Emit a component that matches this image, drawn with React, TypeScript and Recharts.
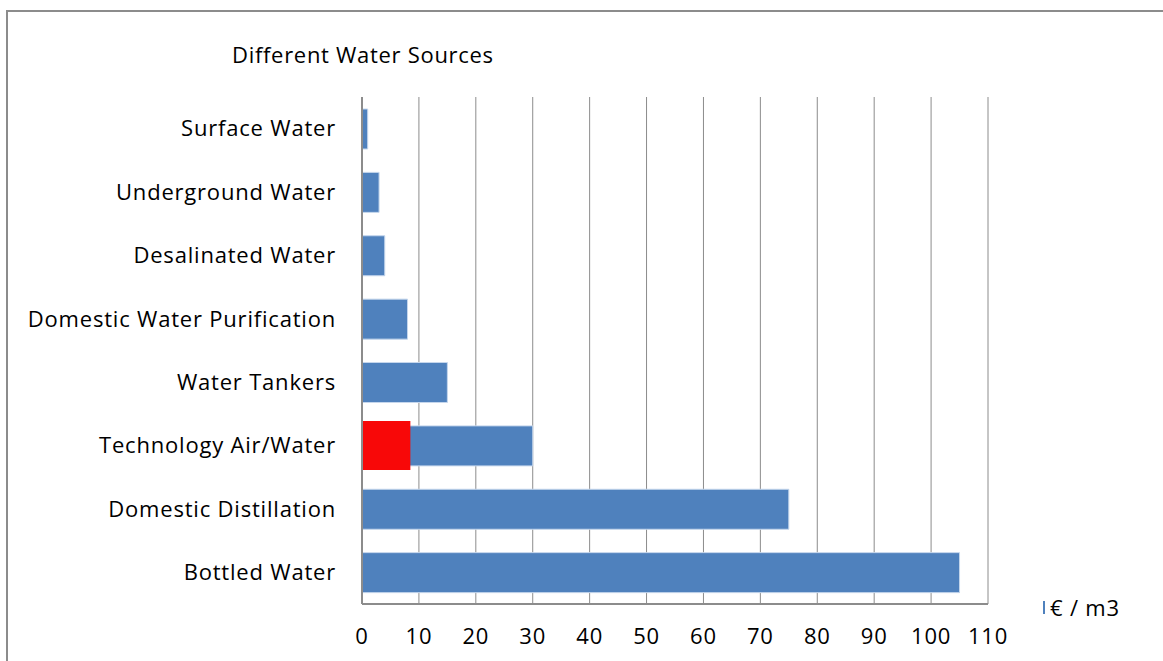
import React from 'react';
import { BarChart, Bar, XAxis, YAxis, CartesianGrid, Legend } from 'recharts';

const SOURCES = [
  'Surface Water',
  'Underground Water',
  'Desalinated Water',
  'Domestic Water Purification ',
  'Water Tankers',
  'Technology Air/Water',
  'Domestic Distillation',
  'Bottled Water',
];
const COST = [1, 3, 4, 8, 15, 30, 75, 105];
// red highlight sits only on the Air/Water row
const HIGHLIGHT = [null, null, null, null, null, 8.5, null, null];
const X_TICKS = [0, 10, 20, 30, 40, 50, 60, 70, 80, 90, 100, 110];

const data = SOURCES.map((name, i) => ({ name, cost: COST[i], highlight: HIGHLIGHT[i] }));

const FONT = '"Open Sans", Lato, sans-serif';
const tickStyle = { fill: '#000', fontSize: 22, fontFamily: FONT, letterSpacing: 0.8 };

const LegendContent = () => (
  <div style={{ display: 'flex', alignItems: 'center', fontFamily: FONT, fontSize: 22, letterSpacing: 0.8, color: '#000' }}>
    <span style={{ display: 'inline-block', width: 2, height: 13, background: '#4f81bd', marginRight: 5 }} />
    <span>€ / m3</span>
  </div>
);

const App: React.FC = () => {
  return (
    <div style={{ position: 'fixed', left: 0, top: 0, width: 1163, height: 661, overflow: 'hidden', background: '#fff' }}>
      <div
        style={{
          position: 'absolute', left: 6, top: 10, width: 1300, height: 800,
          borderLeft: '2px solid #8c8c8c', borderTop: '2px solid #8c8c8c',
        }}
      />
      <div style={{ position: 'absolute', left: 232, top: 39, fontFamily: FONT, fontSize: 22, letterSpacing: 0.7, color: '#000' }}>
        Different Water Sources
      </div>
      <div style={{ position: 'absolute', left: 0, top: 0 }}>
        <BarChart
          width={1163}
          height={661}
          data={data}
          layout="vertical"
          margin={{ top: 97, right: 175, left: 0, bottom: 0 }}
        >
          <CartesianGrid horizontal={false} stroke="#8c8c8c" strokeWidth={1} />
          <XAxis
            type="number"
            domain={[0, 110]}
            ticks={X_TICKS}
            height={57}
            axisLine={{ stroke: '#8c8c8c', strokeWidth: 2 }}
            tickLine={false}
            tickMargin={18}
            tick={tickStyle}
          />
          <YAxis
            type="category"
            dataKey="name"
            width={362}
            axisLine={{ stroke: '#8c8c8c', strokeWidth: 2 }}
            tickLine={false}
            tickMargin={20}
            interval={0}
            tick={tickStyle}
          />
          <YAxis yAxisId="hl" type="category" dataKey="name" hide />
          <Legend
            layout="vertical"
            align="center"
            verticalAlign="middle"
            wrapperStyle={{ left: 1043, top: 592, width: 'auto' }}
            content={() => <LegendContent />}
          />
          <Bar dataKey="cost" fill="#4f81bd" stroke="#c5d6ec" strokeWidth={1} barSize={40} isAnimationActive={false} />
          <Bar dataKey="highlight" yAxisId="hl" fill="#f80808" barSize={49} isAnimationActive={false} legendType="none" />
        </BarChart>
      </div>
    </div>
  );
};

export default App;
